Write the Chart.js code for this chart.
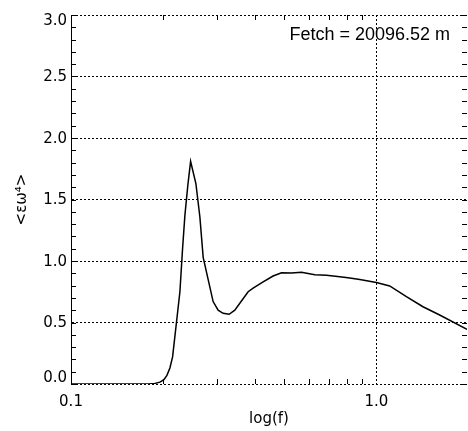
<!DOCTYPE html>
<html>
<head>
<meta charset="utf-8">
<script src="https://cdn.jsdelivr.net/npm/chart.js@4.4.1/dist/chart.umd.min.js"></script>
<style>
  html, body { margin: 0; padding: 0; background: #fff; }
  #wrap { width: 468px; height: 431px; }
</style>
</head>
<body>
<div id="wrap"><canvas id="spec" width="468" height="431"></canvas></div>
<script>
    // frequences (Hz) et valeurs
    var freqs = [0.1, 0.1244, 0.156, 0.1813, 0.1883, 0.1955, 0.2015, 0.2061, 0.2108, 0.2151,
        0.2217, 0.2273, 0.2319, 0.2360, 0.2414, 0.2464, 0.2564, 0.2642, 0.2709, 0.2812,
        0.2920, 0.3032, 0.3148, 0.3294, 0.3439, 0.3571, 0.3802, 0.3948, 0.4257, 0.4589,
        0.4891, 0.5274, 0.5683, 0.6284, 0.6864, 0.7586, 0.8074, 0.8821, 1.0, 1.1053,
        1.2537, 1.4207, 1.6113, 1.98];
    var spectrum = [0, 0, 0, 0.002, 0.005, 0.015, 0.035, 0.07, 0.13, 0.22,
        0.51, 0.75, 1.10, 1.37, 1.62, 1.81, 1.63, 1.36, 1.03, 0.85,
        0.67, 0.60, 0.575, 0.567, 0.60, 0.656, 0.75, 0.78, 0.83, 0.878,
        0.905, 0.902, 0.908, 0.889, 0.884, 0.872, 0.864, 0.85, 0.826, 0.797,
        0.71, 0.628, 0.561, 0.444];

    var xTicks = [0.1, 1.0];
    var xMinor = [0.2, 0.3, 0.4, 0.5, 0.6, 0.7, 0.8, 0.9, 2.0];
    var yTicks = [0, 0.5, 1.0, 1.5, 2.0, 2.5, 3.0];
    var fetchLabel = 'Fetch = 20096.52 m';

    var tickFont = { family: 'DejaVu Sans', size: 15 };

    // ticks internes, etiquettes y et annotation
    var extras = {
        id: 'extras',
        afterDraw: function (chart) {
            var ctx = chart.ctx, a = chart.chartArea;
            var x = chart.scales.x, y = chart.scales.y;
            ctx.save();
            ctx.strokeStyle = '#000';
            ctx.lineWidth = 1;
            ctx.beginPath();
            for (var k = 0; k <= 30; k++) {
                var py = Math.round(y.getPixelForValue(k / 10)) + 0.5;
                ctx.moveTo(a.left, py); ctx.lineTo(a.left + 5, py);
                ctx.moveTo(a.right - 5, py); ctx.lineTo(a.right, py);
            }
            xMinor.forEach(function (v) {
                var px = Math.round(x.getPixelForValue(v)) + 0.5;
                ctx.moveTo(px, a.bottom); ctx.lineTo(px, a.bottom - 5);
                ctx.moveTo(px, a.top); ctx.lineTo(px, a.top + 5);
            });
            ctx.stroke();

            ctx.fillStyle = '#000';
            ctx.font = '15px "DejaVu Sans"';
            ctx.textAlign = 'right';
            ctx.textBaseline = 'middle';
            yTicks.forEach(function (v) {
                var py = y.getPixelForValue(v);
                py = Math.min(Math.max(py, a.top + 5), a.bottom - 7);
                ctx.fillText(v.toFixed(1), a.left - 4, py + 1);
            });

            ctx.font = '18px "Liberation Sans"';
            ctx.textBaseline = 'alphabetic';
            ctx.fillText(fetchLabel, a.right - 17, a.top + 25);
            ctx.restore();
        }
    };

    var ctx1 = document.getElementById('spec').getContext('2d');
    var specChart = new Chart(ctx1, {
        type: 'line',
        data: {
            datasets: [{
                data: freqs.map(function (f, i) { return { x: f, y: spectrum[i] }; }),
                borderColor: '#000',
                borderWidth: 1.5,
                pointRadius: 0,
                tension: 0,
                fill: false
            }]
        },
        options: {
            responsive: false,
            animation: false,
            layout: { padding: { top: 15, right: 1, left: 0, bottom: 0 } },
            plugins: { legend: { display: false }, tooltip: { enabled: false } },
            scales: {
                x: {
                    type: 'logarithmic',
                    min: 0.1,
                    max: 1.98,
                    afterBuildTicks: function (s) { s.ticks = xTicks.map(function (v) { return { value: v }; }); },
                    afterFit: function (s) { s.height = 47; },
                    ticks: {
                        font: tickFont, color: '#000', padding: 9,
                        maxRotation: 0, autoSkip: false,
                        callback: function (v) { return Number(v).toFixed(1); }
                    },
                    grid: {
                        drawTicks: false,
                        color: function (c) { return c.tick && c.tick.value === 1 ? '#000' : 'rgba(0,0,0,0)'; }
                    },
                    border: { display: false, dash: [2, 2] },
                    title: { display: true, text: 'log(f)', font: tickFont, color: '#000', padding: { top: 0, bottom: 3 } }
                },
                y: {
                    min: 0,
                    max: 3,
                    afterBuildTicks: function (s) { s.ticks = yTicks.map(function (v) { return { value: v }; }); },
                    afterFit: function (s) { s.width = 71; },
                    ticks: { display: false },
                    grid: { drawTicks: false, color: '#000' },
                    border: { display: true, color: '#000', width: 1, dash: [2, 2] },
                    title: { display: true, text: '<εω⁴>', font: tickFont, color: '#000', padding: { top: 13, bottom: 0 } }
                }
            }
        },
        plugins: [extras]
    });
</script>
</body>
</html>
